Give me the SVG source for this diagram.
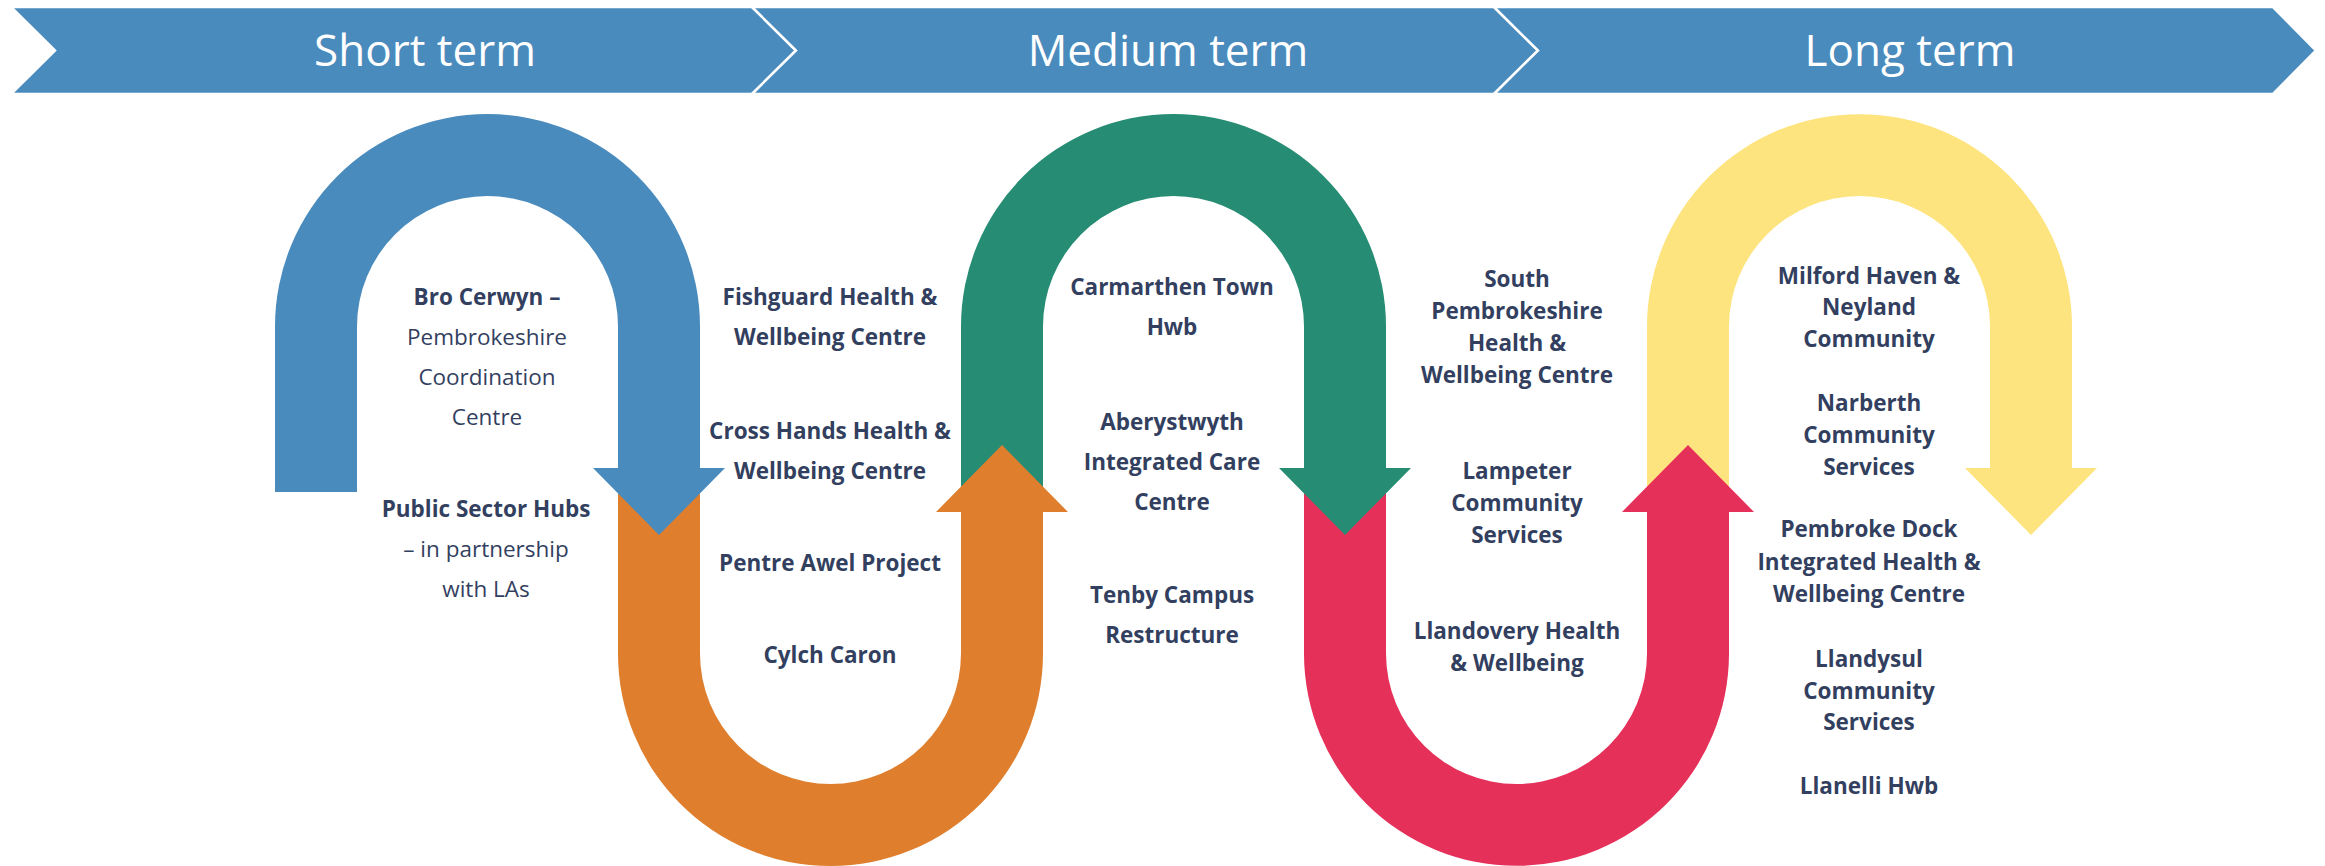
<svg xmlns="http://www.w3.org/2000/svg" width="2325" height="866" viewBox="0 0 2325 866">
<style>
.band{fill:#4A8BBD;stroke:#FFFFFF;stroke-width:2.5}
.bt{font-family:"Open Sans","Liberation Sans",sans-serif;font-weight:400;font-size:44px;fill:#FFFFFF;text-anchor:middle}
.t{font-family:"Open Sans","Liberation Sans",sans-serif;font-size:22.5px;fill:#333F5F;text-anchor:middle}
.b{font-weight:700}
</style>
<rect width="2325" height="866" fill="#FFFFFF"/>
<g id="banner">
<g id="short-term">
<polygon class="band" points="11,7 752,7 796,50.5 752,94 11,94 55,50.5"/>
<text class="bt" x="425" y="66">Short term</text>
</g>
<g id="medium-term">
<polygon class="band" points="752,7 1494,7 1538,50.5 1494,94 752,94 796,50.5"/>
<text class="bt" x="1168" y="66">Medium term</text>
</g>
<g id="long-term">
<polygon class="band" points="1494,7 2273,7 2316,50.5 2273,94 1494,94 1538,50.5"/>
<text class="bt" x="1910" y="66">Long term</text>
</g>
</g>
<g id="connectors">
<path id="yellow-arrow" fill="#FDE47E" d="M 1647 505 L 1647 326.5 A 212.5 212.5 0 0 1 2072 326.5 L 2072 468 L 2097 468 L 2031 535 L 1965 468 L 1990 468 L 1990 326.5 A 130.5 130.5 0 0 0 1729 326.5 L 1729 505 Z"/>
<path id="red-arrow" fill="#E5305A" d="M 1304 475 L 1304 653.5 A 212.5 212.5 0 0 0 1729 653.5 L 1729 512 L 1754 512 L 1688 445 L 1622 512 L 1647 512 L 1647 653.5 A 130.5 130.5 0 0 1 1386 653.5 L 1386 475 Z"/>
<path id="green-arrow" fill="#268C73" d="M 961 505 L 961 326.5 A 212.5 212.5 0 0 1 1386 326.5 L 1386 468 L 1411 468 L 1345 535 L 1279 468 L 1304 468 L 1304 326.5 A 130.5 130.5 0 0 0 1043 326.5 L 1043 505 Z"/>
<path id="orange-arrow" fill="#DF7E2D" d="M 618 475 L 618 653.5 A 212.5 212.5 0 0 0 1043 653.5 L 1043 512 L 1068 512 L 1002 445 L 936 512 L 961 512 L 961 653.5 A 130.5 130.5 0 0 1 700 653.5 L 700 475 Z"/>
<path id="blue-arrow" fill="#4A8BBD" d="M 275 492 L 275 326.5 A 212.5 212.5 0 0 1 700 326.5 L 700 468 L 725 468 L 659 535 L 593 468 L 618 468 L 618 326.5 A 130.5 130.5 0 0 0 357 326.5 L 357 492 Z"/>
</g>
<g id="node-bro-cerwyn" class="t">
<text x="487" y="305" class="b">Bro Cerwyn –</text>
<text x="487" y="345">Pembrokeshire</text>
<text x="487" y="385">Coordination</text>
<text x="487" y="425">Centre</text>
</g>
<g id="node-public-sector-hubs" class="t">
<text x="486" y="517" class="b">Public Sector Hubs</text>
<text x="486" y="557">– in partnership</text>
<text x="486" y="597">with LAs</text>
</g>
<g id="node-fishguard" class="t b">
<text x="830" y="305">Fishguard Health &amp;</text>
<text x="830" y="345">Wellbeing Centre</text>
</g>
<g id="node-cross-hands" class="t b">
<text x="830" y="439">Cross Hands Health &amp;</text>
<text x="830" y="479">Wellbeing Centre</text>
</g>
<g id="node-pentre-awel" class="t b">
<text x="830" y="571">Pentre Awel Project</text>
</g>
<g id="node-cylch-caron" class="t b">
<text x="830" y="663">Cylch Caron</text>
</g>
<g id="node-carmarthen" class="t b">
<text x="1172" y="295">Carmarthen Town</text>
<text x="1172" y="335">Hwb</text>
</g>
<g id="node-aberystwyth" class="t b">
<text x="1172" y="430">Aberystwyth</text>
<text x="1172" y="470">Integrated Care</text>
<text x="1172" y="510">Centre</text>
</g>
<g id="node-tenby" class="t b">
<text x="1172" y="603">Tenby Campus</text>
<text x="1172" y="643">Restructure</text>
</g>
<g id="node-south-pembrokeshire" class="t b">
<text x="1517" y="287">South</text>
<text x="1517" y="319">Pembrokeshire</text>
<text x="1517" y="351">Health &amp;</text>
<text x="1517" y="383">Wellbeing Centre</text>
</g>
<g id="node-lampeter" class="t b">
<text x="1517" y="479">Lampeter</text>
<text x="1517" y="511">Community</text>
<text x="1517" y="543">Services</text>
</g>
<g id="node-llandovery" class="t b">
<text x="1517" y="639">Llandovery Health</text>
<text x="1517" y="671">&amp; Wellbeing</text>
</g>
<g id="node-milford-haven" class="t b">
<text x="1869" y="284">Milford Haven &amp;</text>
<text x="1869" y="315">Neyland</text>
<text x="1869" y="347">Community</text>
</g>
<g id="node-narberth" class="t b">
<text x="1869" y="411">Narberth</text>
<text x="1869" y="443">Community</text>
<text x="1869" y="475">Services</text>
</g>
<g id="node-pembroke-dock" class="t b">
<text x="1869" y="537">Pembroke Dock</text>
<text x="1869" y="570">Integrated Health &amp;</text>
<text x="1869" y="602">Wellbeing Centre</text>
</g>
<g id="node-llandysul" class="t b">
<text x="1869" y="667">Llandysul</text>
<text x="1869" y="699">Community</text>
<text x="1869" y="730">Services</text>
</g>
<g id="node-llanelli" class="t b">
<text x="1869" y="794">Llanelli Hwb</text>
</g>
</svg>
